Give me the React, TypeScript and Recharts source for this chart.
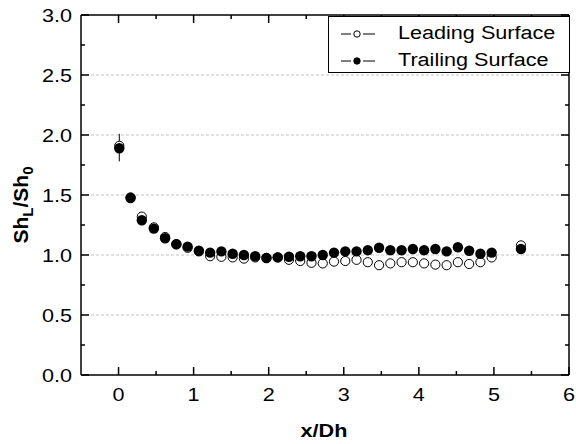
import React from "react";
import {
  ScatterChart,
  Scatter,
  XAxis,
  YAxis,
  ReferenceLine,
  ErrorBar,
} from "recharts";

// positions along the channel (x/Dh)
const xPos = [
  0.01, 0.16, 0.31, 0.47, 0.62, 0.77, 0.92, 1.07, 1.22, 1.37, 1.52, 1.67,
  1.82, 1.97, 2.12, 2.27, 2.42, 2.57, 2.72, 2.87, 3.02, 3.17, 3.32, 3.47,
  3.62, 3.77, 3.92, 4.07, 4.22, 4.37, 4.52, 4.67, 4.82, 4.97, 5.36,
];

const leading = [
  1.91, 1.48, 1.32, 1.23, 1.15, 1.09, 1.06, 1.03, 0.99, 0.985, 0.98, 0.97,
  0.98, 0.975, 0.98, 0.96, 0.95, 0.935, 0.93, 0.945, 0.95, 0.96, 0.94, 0.915,
  0.93, 0.94, 0.94, 0.93, 0.92, 0.915, 0.94, 0.925, 0.94, 0.98, 1.08,
];

const trailing = [
  1.89, 1.475, 1.29, 1.22, 1.14, 1.09, 1.07, 1.035, 1.02, 1.03, 1.01, 1.0,
  0.99, 0.975, 0.98, 0.985, 0.99, 0.99, 1.0, 1.02, 1.03, 1.03, 1.04, 1.06,
  1.04, 1.04, 1.05, 1.04, 1.05, 1.03, 1.065, 1.035, 1.01, 1.02, 1.05,
];

// error bars on the first leading-surface point: [below, above]
const leadingErr = [[0.13, 0.1]];

const xTicks = [0, 0.5, 1, 1.5, 2, 2.5, 3, 3.5, 4, 4.5, 5, 5.5, 6];
const yTicks = [
  0, 0.25, 0.5, 0.75, 1, 1.25, 1.5, 1.75, 2, 2.25, 2.5, 2.75, 3,
];
const gridY = [0.5, 1, 1.5, 2, 2.5];

const FONT = "'Liberation Sans', Arial, sans-serif";

const leadingData = xPos.map((x, i) => ({
  x,
  y: leading[i],
  err: leadingErr[i] ?? [0, 0],
}));
const trailingData = xPos.map((x, i) => ({ x, y: trailing[i] }));

const isMajor = (v: number, step: number) =>
  Math.abs(v / step - Math.round(v / step)) < 1e-6;

const BottomTick = (props: any) => {
  const { x, y, payload } = props;
  const v = payload.value;
  const major = isMajor(v, 1);
  return (
    <g>
      <line x1={x} x2={x} y1={y} y2={y - (major ? 8 : 4)} stroke="#000" strokeWidth={1.5} />
      {major && (
        <text
          transform={`translate(${x},${y + 26}) scale(1.2,1)`}
          textAnchor="middle"
          fontSize={18}
          fontFamily={FONT}
          fill="#000"
        >
          {v}
        </text>
      )}
    </g>
  );
};

const TopTick = (props: any) => {
  const { x, y, payload } = props;
  const major = isMajor(payload.value, 1);
  return <line x1={x} x2={x} y1={y} y2={y + (major ? 8 : 4)} stroke="#000" strokeWidth={1.5} />;
};

const LeftTick = (props: any) => {
  const { x, y, payload } = props;
  const v = payload.value;
  const major = isMajor(v, 0.5);
  return (
    <g>
      <line x1={x} x2={x + (major ? 8 : 4)} y1={y} y2={y} stroke="#000" strokeWidth={1.5} />
      {major && (
        <text
          transform={`translate(${x - 9},${y + 6.5}) scale(1.2,1)`}
          textAnchor="end"
          fontSize={18}
          fontFamily={FONT}
          fill="#000"
        >
          {v.toFixed(1)}
        </text>
      )}
    </g>
  );
};

const RightTick = (props: any) => {
  const { x, y, payload } = props;
  const major = isMajor(payload.value, 0.5);
  return <line x1={x} x2={x - (major ? 8 : 4)} y1={y} y2={y} stroke="#000" strokeWidth={1.5} />;
};

const OpenDot = (props: any) => (
  <circle cx={props.cx} cy={props.cy} r={4.6} fill="#fff" stroke="#000" strokeWidth={1} />
);
const FilledDot = (props: any) => (
  <circle cx={props.cx} cy={props.cy} r={5.2} fill="#000" />
);

const XTitle = () => (
  <text
    transform="translate(324,437) scale(1.2,1)"
    textAnchor="middle"
    fontSize={18}
    fontWeight="bold"
    fontFamily={FONT}
    fill="#000"
  >
    x/Dh
  </text>
);

const YTitle = () => (
  <text
    transform="translate(28,205) rotate(-90)"
    textAnchor="middle"
    fontSize={21}
    fontWeight="bold"
    fontFamily={FONT}
    fill="#000"
  >
    Sh
    <tspan fontSize={15} dy={5}>L</tspan>
    <tspan dy={-5}>/Sh</tspan>
    <tspan fontSize={15} dy={5}>0</tspan>
  </text>
);

const LegendBox = () => (
  <div
    style={{
      position: "absolute",
      left: 328,
      top: 16,
      width: 240,
      height: 55,
      border: "1px solid #000",
      background: "#fff",
      fontFamily: FONT,
      fontSize: 18,
    }}
  >
    {[
      { name: "Leading Surface", filled: false },
      { name: "Trailing Surface", filled: true },
    ].map((item, i) => (
      <div key={i} style={{ position: "absolute", left: 0, top: 4 + i * 27, height: 24, width: 240 }}>
        <svg width={40} height={24} style={{ position: "absolute", left: 10, top: 0 }}>
          <line x1={2} x2={12} y1={13} y2={13} stroke="#000" strokeWidth={1} />
          <line x1={24} x2={36} y1={13} y2={13} stroke="#000" strokeWidth={1} />
          <circle cx={18} cy={13} r={3.2} fill={item.filled ? "#000" : "#fff"} stroke="#000" strokeWidth={1} />
        </svg>
        <span
          style={{
            position: "absolute",
            left: 69,
            top: 1,
            lineHeight: "22px",
            whiteSpace: "nowrap",
            transform: "scaleX(1.2)",
            transformOrigin: "left center",
          }}
        >
          {item.name}
        </span>
      </div>
    ))}
  </div>
);

export default function App() {
  return (
    <div style={{ position: "absolute", left: 0, top: 0, width: 576, height: 444, background: "#fff" }}>
      <ScatterChart width={576} height={444} margin={{ top: 0, right: 0, bottom: 0, left: 0 }}>
        <XAxis
          xAxisId="b"
          type="number"
          dataKey="x"
          orientation="bottom"
          domain={[-0.5, 6]}
          ticks={xTicks}
          interval={0}
          allowDataOverflow
          height={69}
          tickSize={0}
          tickMargin={0}
          tick={<BottomTick />}
          axisLine={{ stroke: "#000", strokeWidth: 1.5 }}
          label={<XTitle />}
        />
        <XAxis
          xAxisId="t"
          type="number"
          dataKey="x"
          orientation="top"
          domain={[-0.5, 6]}
          ticks={xTicks}
          interval={0}
          allowDataOverflow
          height={15}
          tickSize={0}
          tickMargin={0}
          tick={<TopTick />}
          axisLine={{ stroke: "#000", strokeWidth: 1.5 }}
        />
        <YAxis
          yAxisId="l"
          type="number"
          dataKey="y"
          orientation="left"
          domain={[0, 3]}
          ticks={yTicks}
          interval={0}
          allowDataOverflow
          width={81}
          tickSize={0}
          tickMargin={0}
          tick={<LeftTick />}
          axisLine={{ stroke: "#000", strokeWidth: 1.5 }}
          label={<YTitle />}
        />
        <YAxis
          yAxisId="r"
          type="number"
          dataKey="y"
          orientation="right"
          domain={[0, 3]}
          ticks={yTicks}
          interval={0}
          allowDataOverflow
          width={7}
          tickSize={0}
          tickMargin={0}
          tick={<RightTick />}
          axisLine={{ stroke: "#000", strokeWidth: 1.5 }}
        />
        {gridY.map((v) => (
          <ReferenceLine
            key={v}
            xAxisId="b"
            yAxisId="l"
            y={v}
            stroke="#c4c4c4"
            strokeDasharray="3 2"
          />
        ))}
        <Scatter
          name="Leading Surface"
          data={leadingData}
          xAxisId="b"
          yAxisId="l"
          shape={<OpenDot />}
          isAnimationActive={false}
        >
          <ErrorBar dataKey="err" direction="y" width={0} stroke="#000" strokeWidth={1} />
        </Scatter>
        <Scatter
          name="Trailing Surface"
          data={trailingData}
          xAxisId="b"
          yAxisId="l"
          shape={<FilledDot />}
          isAnimationActive={false}
        />
      </ScatterChart>
      <LegendBox />
    </div>
  );
}
